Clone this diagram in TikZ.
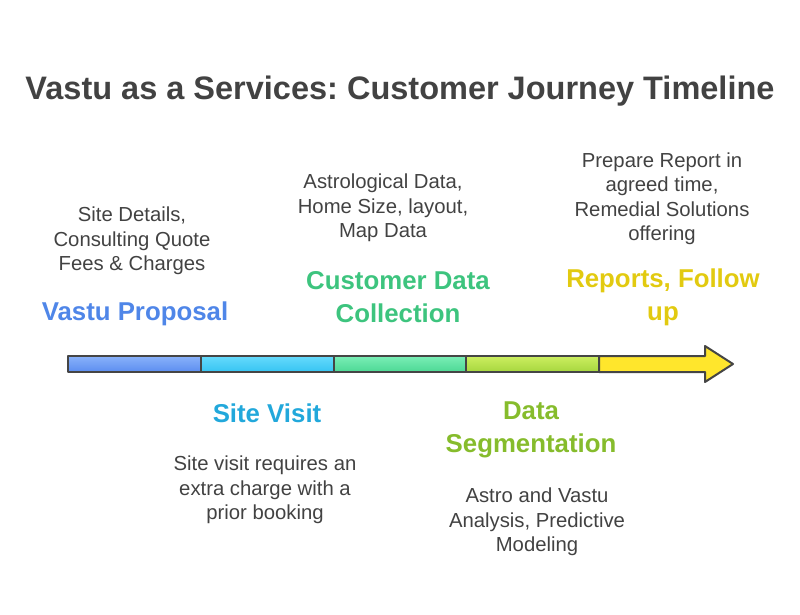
\documentclass[tikz,border=0pt]{standalone}
\usepackage{fontspec}
\setmainfont{Liberation Sans}
\frenchspacing
\definecolor{txt}{HTML}{424242}
\definecolor{cblue}{HTML}{4F86E8}
\definecolor{ccyan}{HTML}{22A8DB}
\definecolor{cgreen}{HTML}{3DC47E}
\definecolor{clime}{HTML}{86BC2C}
\definecolor{cyell}{HTML}{E2CA10}
\definecolor{edge}{HTML}{454545}
\definecolor{b1t}{HTML}{8AB2FA}\definecolor{b1b}{HTML}{5B8DF0}
\definecolor{b2t}{HTML}{66DAFC}\definecolor{b2b}{HTML}{36C4F2}
\definecolor{b3t}{HTML}{7AEEB6}\definecolor{b3b}{HTML}{4CD894}
\definecolor{b4t}{HTML}{CCEE60}\definecolor{b4b}{HTML}{A6D63E}
\definecolor{b5}{HTML}{FFE62C}
\tikzset{
  body/.style={align=center, text=txt, font=\fontsize{20.3}{24.5}\selectfont, inner sep=0pt},
  head/.style={align=center, font=\bfseries\fontsize{25.8}{33}\selectfont, inner sep=0pt},
  seg/.style={draw=edge, line width=2pt, line join=round},
}
\begin{document}
\begin{tikzpicture}[x=1pt,y=-1pt]
\useasboundingbox (0,0) rectangle (800,615);
\node[text=txt, font=\bfseries\fontsize{32.5}{38}\selectfont, inner sep=0pt] (title) at (400,91) {Vastu as a Services: Customer Journey Timeline};

% timeline bar
\path[seg, top color=b1t, bottom color=b1b] (68,356) rectangle (201,372);
\node[inner sep=0pt] (s1) at (134.5,364) {};
\path[seg, top color=b2t, bottom color=b2b] (201,356) rectangle (334,372);
\node[inner sep=0pt] (s2) at (267.5,364) {};
\path[seg, top color=b3t, bottom color=b3b] (334,356) rectangle (466,372);
\node[inner sep=0pt] (s3) at (400,364) {};
\path[seg, top color=b4t, bottom color=b4b] (466,356) rectangle (599,372);
\node[inner sep=0pt] (s4) at (532.5,364) {};
\path[seg, fill=b5] (599,356) -- (705,356) -- (705,346) -- (733,364) -- (705,382) -- (705,372) -- (599,372) -- cycle;
\node[inner sep=0pt] (s5) at (650,364) {};

% labels above
\node[head, text=cblue] (h1) at (135,314) {Vastu Proposal};
\node[body] (b1) at (132,241) {Site Details,\\Consulting Quote\\Fees \& Charges};

\node[head, text=cgreen] (h3) at (398,297.5) {Customer Data\\Collection};
\node[body] (b3) at (383,208) {Astrological Data,\\Home Size, layout,\\Map Data};

\node[head, text=cyell] (h5) at (663,297.5) {Reports, Follow\\up};
\node[body] (b5) at (662,198.5) {Prepare Report in\\agreed time,\\Remedial Solutions\\offering};

% labels below
\node[head, text=ccyan] (h2) at (267,413) {Site Visit};
\node[body] (b2) at (265,490) {Site visit requires an\\extra charge with a\\prior booking};

\node[head, text=clime] (h4) at (531,429.5) {Data\\Segmentation};
\node[body] (b4) at (537,522) {Astro and Vastu\\Analysis, Predictive\\Modeling};
\end{tikzpicture}
\end{document}
